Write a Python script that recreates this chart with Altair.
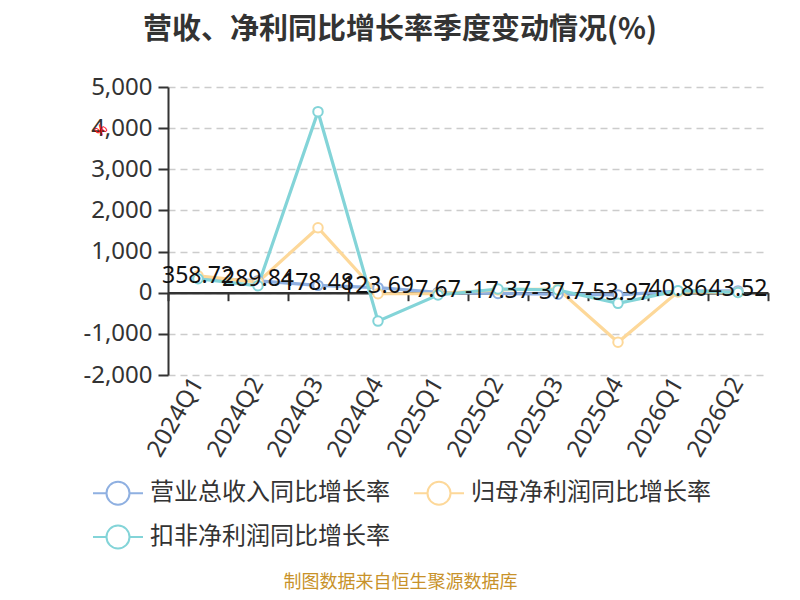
import altair as alt
import pandas as pd

quarters = ["2024Q1", "2024Q2", "2024Q3", "2024Q4", "2025Q1",
            "2025Q2", "2025Q3", "2025Q4", "2026Q1", "2026Q2"]
revenue_yoy = [358.72, 289.84, 178.48, 123.69, 7.67, -17.37, -37.7, -53.97, 40.86, 43.52]
parent_np_yoy = [410, 260, 1580, -25, -20, 70, 90, -1205, 20, 10]
deducted_np_yoy = [340, 168, 4400, -690, -56, 90, 66, -258, 49, 5]
series_names = ["营业总收入同比增长率", "归母净利润同比增长率", "扣非净利润同比增长率"]
series_colors = ["#8fb0e1", "#fdd899", "#83d4d8"]
y_ticks = [-2000, -1000, 0, 1000, 2000, 3000, 4000, 5000]

rows = []
for name, vals in zip(series_names, [revenue_yoy, parent_np_yoy, deducted_np_yoy]):
    for q, v in zip(quarters, vals):
        rows.append({"quarter": q, "series": name, "value": v})
df = pd.DataFrame(rows)
label_df = pd.DataFrame({"quarter": quarters, "value": revenue_yoy,
                         "label": [str(v) for v in revenue_yoy]})

CJK = "Noto Sans CJK SC"
NUM = "Noto Sans"

x_scale = alt.Scale(type="band", paddingInner=0, paddingOuter=0)
y_scale = alt.Scale(domain=[-2000, 5000], nice=False, zero=False)

y_axis = alt.Axis(values=y_ticks,
                  labelExpr="replace(format(datum.value, ','), '\u2212', '-')",
                  grid=True, gridDash=[7, 5], gridColor="#cccccc", gridWidth=1.5,
                  domain=True, domainColor="#333333", domainWidth=2,
                  ticks=True, tickColor="#333333", tickWidth=2, tickSize=10,
                  labelFont=NUM, labelFontSize=24, labelColor="#333333", labelPadding=6,
                  title="%", titleColor="red", titleFontSize=14, titleFont=NUM,
                  titleFontWeight="normal", titleAngle=-45, titleX=-62, titleY=48)

x_axis_labels = alt.Axis(domain=False, ticks=False, grid=False, labelAngle=-60,
                         labelFont=NUM, labelFontSize=24, labelColor="#333333",
                         labelPadding=4, orient="bottom",
                         title="制图数据来自恒生聚源数据库", titleColor="#c8922a",
                         titleFont=CJK, titleFontSize=18, titleFontWeight="normal",
                         titleX=232, titleY=207, titleAlign="center",
                         titleBaseline="middle", titleAngle=0)

x_axis_ticks = alt.Axis(orient="bottom", offset=-82.3, labels=False, grid=False,
                        domain=True, domainColor="#333333", domainWidth=2.5,
                        ticks=True, tickBand="extent", tickSize=8, tickWidth=2,
                        tickColor="#333333", title=None)

legend_symbol = ("M-2.5,0L-1.15,0M1.15,0L2.5,0M1.15,0"
                 "A1.15,1.15,0,1,1,-1.15,0A1.15,1.15,0,1,1,1.15,0Z")

lines = alt.Chart(df).mark_line(
    strokeWidth=3.2,
    point=alt.OverlayMarkDef(filled=False, fill="white", size=90, strokeWidth=2, opacity=1),
).encode(
    x=alt.X("quarter:N", sort=quarters, scale=x_scale, axis=x_axis_labels, bandPosition=0.5),
    y=alt.Y("value:Q", scale=y_scale, axis=y_axis),
    color=alt.Color("series:N", sort=series_names,
                    scale=alt.Scale(domain=series_names, range=series_colors),
                    legend=alt.Legend(orient="none", legendX=-62, legendY=394, columns=2,
                                      direction="horizontal",
                                      title=None, symbolType=legend_symbol, symbolSize=400,
                                      symbolStrokeWidth=2, symbolFillColor="white",
                                      labelFont=CJK, labelFontSize=24, labelColor="#333333",
                                      labelOffset=20, columnPadding=20, rowPadding=12,
                                      labelLimit=400)),
)

labels = alt.Chart(label_df).mark_text(
    font=NUM, fontSize=23, color="#111111", baseline="middle", dy=-2
).encode(
    x=alt.X("quarter:N", sort=quarters, scale=x_scale, axis=x_axis_labels, bandPosition=0.5),
    y=alt.Y("value:Q", scale=y_scale, axis=y_axis),
    text="label:N",
)

main = alt.layer(lines, labels)

tick_layer = alt.Chart(label_df).mark_point(opacity=0).encode(
    x=alt.X("quarter:N", sort=quarters, scale=x_scale, axis=x_axis_ticks, bandPosition=0.5),
    y=alt.Y("value:Q", scale=y_scale, axis=y_axis),
)

chart = alt.layer(main, tick_layer).resolve_axis(x="independent").properties(
    width=600, height=288,
    autosize=alt.AutoSizeParams(type="none"),
    padding={"left": 160, "top": 79, "right": 24, "bottom": 217},
    title=alt.TitleParams("营收、净利同比增长率季度变动情况(%)", font=CJK, fontSize=29,
                          fontWeight="bold", color="#333333", anchor="middle",
                          dx=-68, offset=30),
).configure_view(stroke=None)

chart.save("out.html", embed_options={"renderer": "svg", "actions": False})
